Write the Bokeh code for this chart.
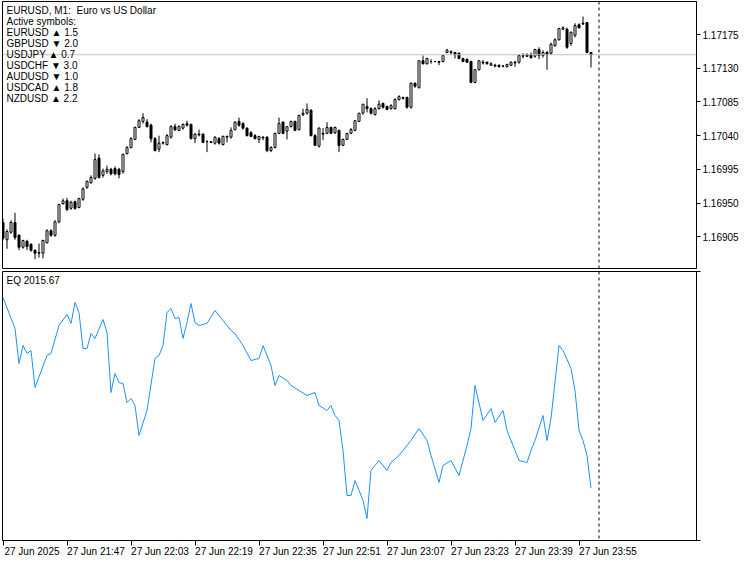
from bokeh.plotting import figure
from bokeh.layouts import column
from bokeh.models import (Range1d, FixedTicker, Span, Label, ColumnDataSource,
                          CustomJSTickFormatter, PrintfTickFormatter, LinearAxis)
from bokeh.embed import file_html
from bokeh.resources import INLINE

# ---------------- data (EURUSD M1, 27 Jun 2025 21:31 .. 23:58) ----------------
opens = [1.16924, 1.16901, 1.16911, 1.16924, 1.16907, 1.16891, 1.16899, 1.16895, 1.16887, 1.16883,
         1.16883, 1.16897, 1.16913, 1.16907, 1.16925, 1.16949, 1.16953, 1.16943, 1.16952, 1.16944,
         1.16955, 1.16971, 1.16977, 1.16983, 1.17010, 1.16987, 1.16992, 1.16995, 1.16996, 1.16995,
         1.16992, 1.17016, 1.17024, 1.17035, 1.17051, 1.17059, 1.17058, 1.17054, 1.17036, 1.17022,
         1.17030, 1.17028, 1.17038, 1.17052, 1.17047, 1.17050, 1.17056, 1.17055, 1.17036, 1.17042,
         1.17042, 1.17032, 1.17032, 1.17030, 1.17036, 1.17028, 1.17038, 1.17038, 1.17048, 1.17059,
         1.17056, 1.17050, 1.17044, 1.17040, 1.17035, 1.17038, 1.17038, 1.17020, 1.17024, 1.17043,
         1.17058, 1.17046, 1.17052, 1.17059, 1.17048, 1.17068, 1.17070, 1.17074, 1.17040, 1.17026,
         1.17043, 1.17043, 1.17051, 1.17044, 1.17047, 1.17027, 1.17035, 1.17043, 1.17047, 1.17059,
         1.17070, 1.17079, 1.17076, 1.17068, 1.17076, 1.17083, 1.17079, 1.17076, 1.17076, 1.17088,
         1.17091, 1.17091, 1.17078, 1.17110, 1.17104, 1.17140, 1.17136, 1.17139, 1.17139, 1.17139,
         1.17139, 1.17151, 1.17152, 1.17151, 1.17150, 1.17143, 1.17142, 1.17139, 1.17111, 1.17128,
         1.17138, 1.17138, 1.17134, 1.17134, 1.17134, 1.17133, 1.17132, 1.17134, 1.17138, 1.17138,
         1.17146, 1.17148, 1.17148, 1.17146, 1.17155, 1.17147, 1.17151, 1.17150, 1.17160, 1.17168,
         1.17182, 1.17182, 1.17163, 1.17174, 1.17188, 1.17190, 1.17191, 1.17151]
highs = [1.16929, 1.16915, 1.16927, 1.16937, 1.16908, 1.16901, 1.16901, 1.16896, 1.16888, 1.16896,
         1.16901, 1.16915, 1.16915, 1.16927, 1.16949, 1.16956, 1.16957, 1.16953, 1.16953, 1.16957,
         1.16971, 1.16980, 1.16987, 1.17016, 1.17015, 1.16996, 1.17000, 1.16997, 1.16999, 1.16997,
         1.17016, 1.17026, 1.17038, 1.17052, 1.17062, 1.17070, 1.17062, 1.17056, 1.17038, 1.17040,
         1.17032, 1.17042, 1.17054, 1.17056, 1.17054, 1.17056, 1.17060, 1.17056, 1.17043, 1.17048,
         1.17043, 1.17034, 1.17032, 1.17039, 1.17038, 1.17040, 1.17040, 1.17051, 1.17059, 1.17064,
         1.17058, 1.17051, 1.17046, 1.17042, 1.17039, 1.17039, 1.17039, 1.17026, 1.17044, 1.17064,
         1.17059, 1.17052, 1.17060, 1.17060, 1.17068, 1.17076, 1.17083, 1.17075, 1.17042, 1.17051,
         1.17050, 1.17058, 1.17052, 1.17052, 1.17048, 1.17036, 1.17043, 1.17050, 1.17060, 1.17070,
         1.17082, 1.17090, 1.17078, 1.17078, 1.17087, 1.17084, 1.17080, 1.17082, 1.17090, 1.17094,
         1.17092, 1.17092, 1.17111, 1.17111, 1.17140, 1.17147, 1.17144, 1.17142, 1.17140, 1.17140,
         1.17148, 1.17156, 1.17154, 1.17152, 1.17151, 1.17144, 1.17143, 1.17140, 1.17128, 1.17140,
         1.17141, 1.17139, 1.17138, 1.17136, 1.17135, 1.17134, 1.17136, 1.17139, 1.17140, 1.17148,
         1.17150, 1.17150, 1.17151, 1.17156, 1.17158, 1.17154, 1.17153, 1.17164, 1.17170, 1.17184,
         1.17186, 1.17184, 1.17179, 1.17190, 1.17190, 1.17199, 1.17192, 1.17151]
lows = [1.16900, 1.16889, 1.16909, 1.16901, 1.16887, 1.16889, 1.16887, 1.16885, 1.16875, 1.16877,
        1.16876, 1.16896, 1.16905, 1.16905, 1.16923, 1.16948, 1.16940, 1.16941, 1.16941, 1.16943,
        1.16953, 1.16969, 1.16976, 1.16981, 1.16983, 1.16984, 1.16989, 1.16987, 1.16987, 1.16983,
        1.16989, 1.17015, 1.17023, 1.17034, 1.17050, 1.17056, 1.17051, 1.17031, 1.17019, 1.17018,
        1.17028, 1.17027, 1.17036, 1.17046, 1.17046, 1.17048, 1.17052, 1.17035, 1.17030, 1.17039,
        1.17030, 1.17018, 1.17030, 1.17028, 1.17028, 1.17027, 1.17031, 1.17036, 1.17047, 1.17052,
        1.17048, 1.17039, 1.17038, 1.17035, 1.17030, 1.17034, 1.17018, 1.17018, 1.17023, 1.17042,
        1.17042, 1.17035, 1.17051, 1.17046, 1.17047, 1.17066, 1.17068, 1.17039, 1.17026, 1.17024,
        1.17034, 1.17042, 1.17042, 1.17042, 1.17018, 1.17026, 1.17034, 1.17042, 1.17046, 1.17058,
        1.17068, 1.17071, 1.17068, 1.17067, 1.17075, 1.17076, 1.17074, 1.17075, 1.17075, 1.17087,
        1.17088, 1.17076, 1.17076, 1.17104, 1.17103, 1.17135, 1.17135, 1.17136, 1.17138, 1.17134,
        1.17138, 1.17150, 1.17148, 1.17143, 1.17142, 1.17138, 1.17137, 1.17110, 1.17110, 1.17127,
        1.17135, 1.17135, 1.17133, 1.17131, 1.17131, 1.17131, 1.17131, 1.17133, 1.17132, 1.17136,
        1.17143, 1.17145, 1.17143, 1.17144, 1.17142, 1.17144, 1.17128, 1.17148, 1.17159, 1.17167,
        1.17181, 1.17156, 1.17160, 1.17171, 1.17183, 1.17188, 1.17150, 1.17131]
closes = [1.16903, 1.16912, 1.16924, 1.16904, 1.16891, 1.16900, 1.16892, 1.16887, 1.16883, 1.16884,
          1.16900, 1.16913, 1.16907, 1.16925, 1.16948, 1.16953, 1.16941, 1.16951, 1.16943, 1.16956,
          1.16969, 1.16979, 1.16984, 1.17008, 1.16984, 1.16993, 1.16995, 1.16989, 1.16989, 1.16988,
          1.17015, 1.17024, 1.17036, 1.17051, 1.17060, 1.17064, 1.17052, 1.17036, 1.17020, 1.17030,
          1.17031, 1.17040, 1.17052, 1.17048, 1.17052, 1.17055, 1.17054, 1.17036, 1.17042, 1.17041,
          1.17031, 1.17032, 1.17031, 1.17038, 1.17030, 1.17039, 1.17039, 1.17047, 1.17058, 1.17054,
          1.17050, 1.17040, 1.17039, 1.17036, 1.17039, 1.17037, 1.17020, 1.17024, 1.17043, 1.17056,
          1.17043, 1.17052, 1.17059, 1.17047, 1.17067, 1.17070, 1.17075, 1.17040, 1.17027, 1.17050,
          1.17042, 1.17051, 1.17043, 1.17051, 1.17027, 1.17035, 1.17043, 1.17048, 1.17060, 1.17070,
          1.17082, 1.17076, 1.17070, 1.17076, 1.17082, 1.17078, 1.17075, 1.17080, 1.17088, 1.17092,
          1.17090, 1.17078, 1.17110, 1.17106, 1.17140, 1.17136, 1.17143, 1.17139, 1.17139, 1.17138,
          1.17147, 1.17154, 1.17151, 1.17148, 1.17143, 1.17139, 1.17138, 1.17111, 1.17128, 1.17140,
          1.17137, 1.17136, 1.17136, 1.17133, 1.17132, 1.17133, 1.17135, 1.17138, 1.17137, 1.17147,
          1.17147, 1.17146, 1.17144, 1.17155, 1.17147, 1.17151, 1.17148, 1.17162, 1.17168, 1.17183,
          1.17184, 1.17158, 1.17178, 1.17187, 1.17184, 1.17189, 1.17151, 1.17148]

current_price = 1.17148
price_ticks = [1.16905, 1.16950, 1.16995, 1.17040, 1.17085, 1.17130, 1.17175]

# equity sub-window (bar index, equity)
eq_idx = [0, 3, 4, 5, 6, 7, 8, 11, 12, 14, 16, 17, 18, 19, 20, 21, 22, 23, 25, 26,
          27, 28, 29, 30, 31, 32, 33, 34, 36, 38, 39, 40, 41, 42, 43, 44, 45, 46, 47, 48,
          49, 51, 53, 55, 57, 58, 60, 62, 64, 65, 67, 68, 69, 71, 72, 74, 76, 78, 79, 81,
          82, 83, 84, 85, 86, 87, 88, 89, 90, 91, 92, 94, 96, 97, 99, 100, 102, 104, 106, 107,
          109, 110, 112, 114, 116, 117, 118, 120, 122, 123, 125, 126, 128, 129, 131, 132, 133, 135, 136, 137,
          139, 140, 142, 143, 144, 145, 146, 147]
eq_val = [2327.1, 2276.5, 2219.3, 2248.7, 2235.7, 2240.6, 2180.1, 2232.4, 2235.7, 2281.4,
          2299.4, 2284.7, 2319.0, 2302.6, 2243.8, 2243.8, 2268.3, 2260.2, 2291.2, 2270.0,
          2172.0, 2203.0, 2188.3, 2186.6, 2155.6, 2162.2, 2150.7, 2101.7, 2142.6, 2227.5,
          2232.4, 2248.7, 2302.6, 2309.2, 2292.8, 2294.5, 2260.2, 2286.3, 2317.3, 2286.3,
          2281.4, 2284.7, 2305.9, 2289.5, 2273.2, 2268.3, 2248.7, 2224.2, 2227.5, 2248.7,
          2216.1, 2183.4, 2199.7, 2191.6, 2183.4, 2175.2, 2167.1, 2172.0, 2150.7, 2142.6,
          2150.7, 2134.4, 2126.2, 2077.2, 2003.7, 2003.7, 2028.2, 2011.9, 1995.6, 1966.2,
          2044.6, 2060.9, 2044.6, 2057.6, 2069.1, 2077.2, 2093.6, 2113.2, 2093.6, 2069.1,
          2025.0, 2052.7, 2060.9, 2036.4, 2085.4, 2113.2, 2183.4, 2126.2, 2145.8, 2123.0,
          2142.6, 2109.9, 2077.2, 2060.9, 2057.6, 2077.2, 2093.6, 2134.4, 2093.6, 2129.5,
          2248.7, 2240.6, 2211.2, 2175.2, 2109.9, 2093.6, 2069.1, 2015.67]
eq_max, eq_min = 2369.58, 1930.21
eq_label = "EQ 2015.67"

time_ticks = [0, 16, 32, 48, 64, 80, 96, 112, 128, 144]
time_labels = ["27 Jun 2025", "27 Jun 21:47", "27 Jun 22:03", "27 Jun 22:19", "27 Jun 22:35",
               "27 Jun 22:51", "27 Jun 23:07", "27 Jun 23:23", "27 Jun 23:39", "27 Jun 23:55"]
day_separator = 149

title_text = "EURUSD, M1:\u00a0 Euro vs US Dollar"
symbols = ["EURUSD", "GBPUSD", "USDJPY", "USDCHF", "AUDUSD", "USDCAD", "NZDUSD"]
directions = ["\u25b2", "\u25bc", "\u25b2", "\u25bc", "\u25bc", "\u25b2", "\u25b2"]
strengths = ["1.5", "2.0", "0.7", "3.0", "1.0", "1.8", "2.2"]

# ---------------- style ----------------
FW, FH1, FH2 = 694, 267, 269
FONT = "Liberation Sans"
FS = "10px"

idx = list(range(len(opens)))
src = ColumnDataSource(dict(
    x=idx,
    top=[max(o, c) for o, c in zip(opens, closes)],
    bottom=[min(o, c) for o, c in zip(opens, closes)],
    high=highs, low=lows,
    fill=["white" if c >= o else "black" for o, c in zip(opens, closes)],
))

x_range = Range1d(-0.125, 173.375)

p1 = figure(frame_width=FW, frame_height=FH1, x_range=x_range,
            y_range=Range1d(1.168626, 1.172191),
            x_axis_location=None, y_axis_location="right",
            output_backend="svg", toolbar_location=None,
            min_border_left=2, min_border_right=52, min_border_top=1, min_border_bottom=2)
p1.grid.visible = False
p1.outline_line_color = "black"
p1.outline_line_alpha = 1.0

p1.add_layout(Span(location=current_price, dimension="width", line_color="#c0c0c0", line_width=1))
p1.segment(x0="x", y0="low", x1="x", y1="high", source=src, line_color="black", line_width=1)
p1.vbar(x="x", width=0.5, top="top", bottom="bottom", source=src,
        fill_color="fill", line_color="black", line_width=1)
p1.add_layout(Span(location=day_separator, dimension="height", line_color="black",
                   line_width=1, line_dash="3 3"))

ya = p1.yaxis[0]
ya.ticker = FixedTicker(ticks=price_ticks)
ya.formatter = PrintfTickFormatter(format="%.5f")
ya.major_tick_out = 4
ya.major_tick_in = 0
ya.minor_tick_out = 0
ya.minor_tick_in = 0
ya.major_label_standoff = 2
ya.axis_line_color = "black"
ya.major_label_text_font = FONT
ya.major_label_text_font_size = FS
ya.major_label_text_color = "black"

p1.add_layout(Label(x=FW + 3, y=current_price, x_units="screen", y_units="data",
                    text=f"{current_price:.5f}", text_color="white", text_font=FONT,
                    text_font_size=FS, text_baseline="middle", text_align="left",
                    background_fill_color="#c0c0c0", padding=1))

info = [title_text, "Active symbols:"] + [f"{s} {d} {v}" for s, d, v in zip(symbols, directions, strengths)]
for k, t in enumerate(info):
    p1.add_layout(Label(x=4, y=FH1 - 9 - 11 * k, x_units="screen", y_units="screen",
                        text=t, text_font=FONT, text_font_size=FS, text_color="black",
                        text_baseline="middle", text_align="left"))

p2 = figure(frame_width=FW, frame_height=FH2, x_range=x_range,
            y_range=Range1d(eq_min, eq_max),
            x_axis_location="below", y_axis_location="right",
            output_backend="svg", toolbar_location=None,
            min_border_left=2, min_border_right=52, min_border_top=1, min_border_bottom=0)
p2.grid.visible = False
p2.outline_line_color = "black"
p2.line(eq_idx, eq_val, line_color="#1e90ff", line_width=1)
p2.add_layout(Span(location=day_separator, dimension="height", line_color="black",
                   line_width=1, line_dash="3 3"))

ya2 = p2.yaxis[0]
ya2.ticker = FixedTicker(ticks=[eq_min, eq_max])
ya2.formatter = CustomJSTickFormatter(code="return ''")
ya2.major_tick_out = 4
ya2.major_tick_in = 0
ya2.minor_tick_out = 0
ya2.minor_tick_in = 0
ya2.major_label_standoff = 0
ya2.axis_line_color = "black"

p2.add_layout(Label(x=FW + 5, y=eq_max, x_units="screen", y_units="data", text=f"{eq_max:.2f}",
                    text_font=FONT, text_font_size=FS, text_color="black",
                    text_baseline="top", text_align="left"))
p2.add_layout(Label(x=FW + 5, y=eq_min, x_units="screen", y_units="data", text=f"{eq_min:.2f}",
                    text_font=FONT, text_font_size=FS, text_color="black",
                    text_baseline="bottom", text_align="left"))
p2.add_layout(Label(x=4, y=FH2 - 9, x_units="screen", y_units="screen", text=eq_label,
                    text_font=FONT, text_font_size=FS, text_color="black",
                    text_baseline="middle", text_align="left"))

xa = p2.xaxis[0]
xa.ticker = FixedTicker(ticks=time_ticks)
xa.formatter = CustomJSTickFormatter(code="return ''")
xa.major_tick_out = 5
xa.major_tick_in = 0
xa.minor_tick_out = 0
xa.minor_tick_in = 0
xa.major_label_standoff = 0
xa.axis_line_color = "black"

xb = LinearAxis(ticker=FixedTicker(ticks=[t + 7.25 for t in time_ticks]),
                formatter=CustomJSTickFormatter(args=dict(labels=time_labels),
                                                code="return labels[Math.round((tick - 7.25) / 16)] || ''"))
xb.major_tick_out = 0
xb.major_tick_in = 0
xb.minor_tick_out = 0
xb.minor_tick_in = 0
xb.axis_line_color = None
xb.major_label_standoff = 0
xb.major_label_text_font = FONT
xb.major_label_text_font_size = FS
xb.major_label_text_color = "black"
p2.add_layout(xb, "below")

layout = column(p1, p2, spacing=0)
open("out.html", "w").write(file_html(layout, INLINE))
